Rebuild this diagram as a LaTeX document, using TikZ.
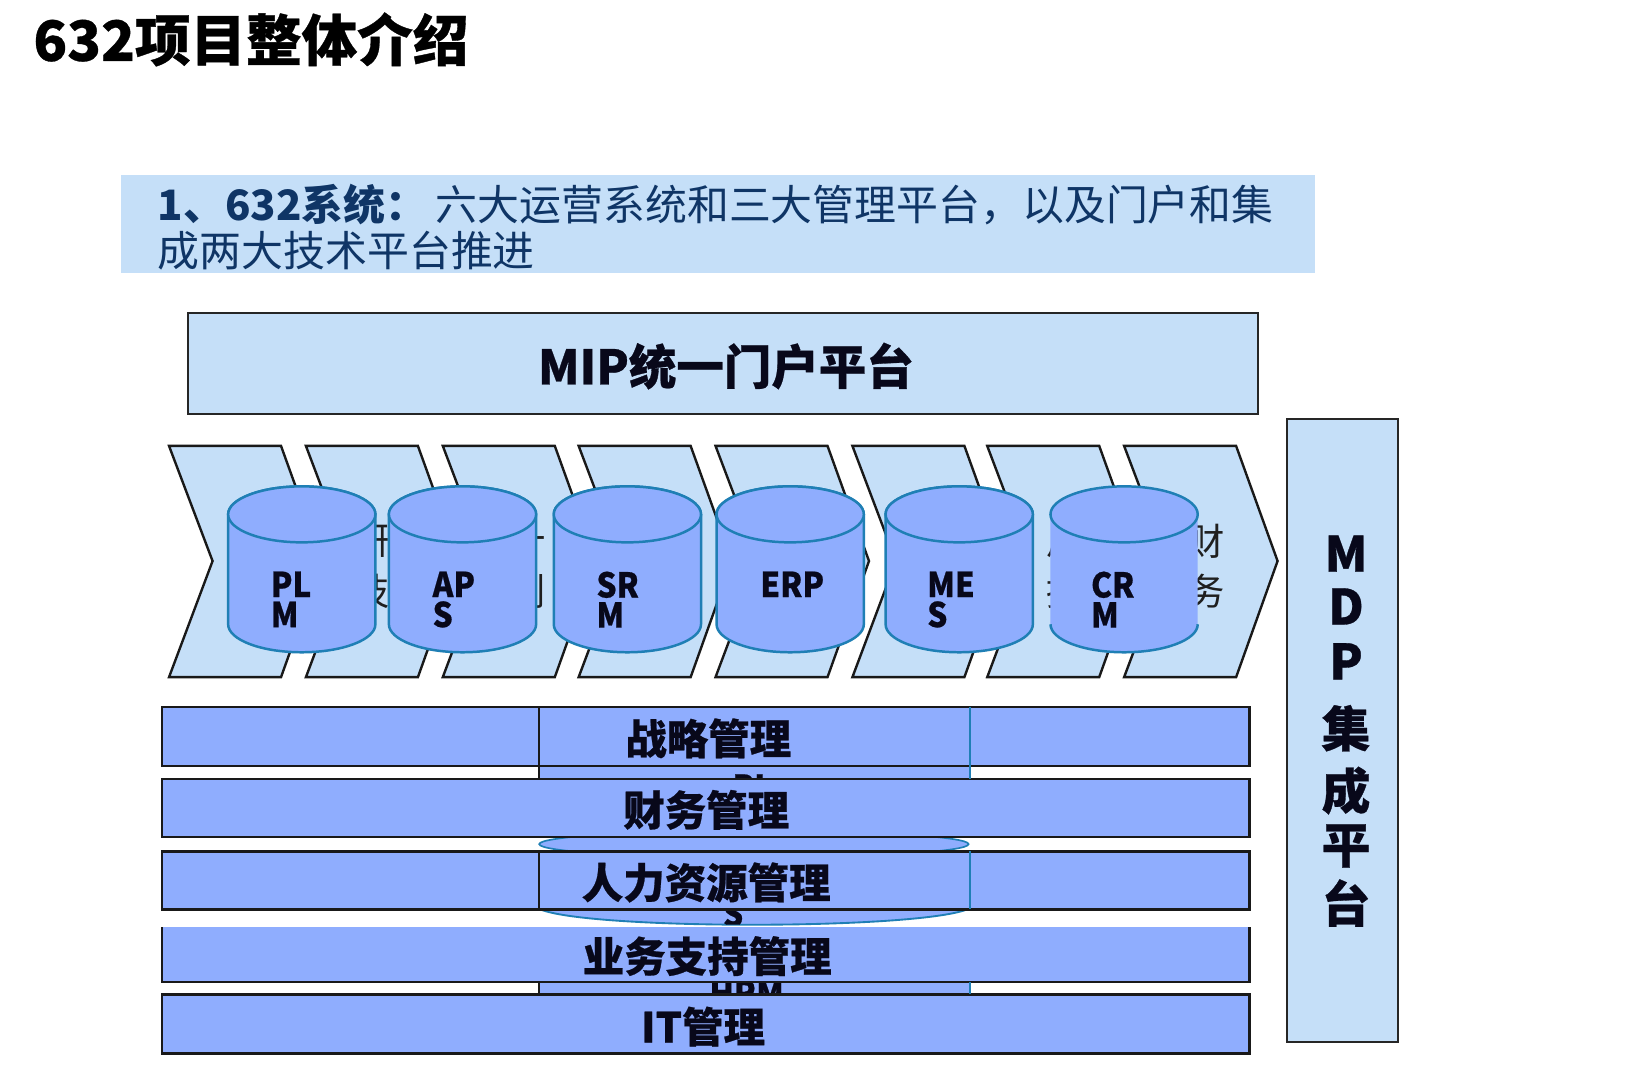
\documentclass[tikz,border=0pt]{standalone}
\usepackage{fontspec}
\setmainfont{Noto Sans CJK SC}
\definecolor{paleblue}{HTML}{C5DFF8}
\definecolor{midblue}{HTML}{8FADFE}
\definecolor{tealline}{HTML}{1F7FB5}
\definecolor{navytext}{HTML}{0F3566}
\definecolor{inktext}{HTML}{08081A}
\newcommand{\fsz}[2]{\fontsize{#1}{#2}\selectfont}
\newcommand{\heavy}{\bfseries\addfontfeature{FakeBold=0.6}}
\newcommand{\narrowheavy}{\bfseries\addfontfeature{FakeStretch=0.92,FakeBold=0.6}}
\tikzset{
  panel/.style={draw=black!85,line width=1.8pt,fill=paleblue},
  chevronshape/.style={draw=black!90,line width=2.3pt,fill=paleblue,line join=miter},
  bar/.style={draw=black!90,line width=2.2pt,fill=midblue},
  cyl/.style={draw=tealline,line width=2.4pt,fill=midblue},
  cyltext/.style={inner sep=0pt,align=left,text=inktext,font=\fsz{33}{29}\narrowheavy},
  bartext/.style={inner sep=0pt,text=inktext,font=\fsz{40}{44}\heavy},
  hidetext/.style={inner sep=0pt,text=black!88,font=\fsz{36}{40}},
  fragment/.style={inner sep=0pt,text=inktext,font=\fsz{33}{33}\narrowheavy},
}
% #1 name, #2 left x, #3 text left x, #4 label
\newcommand{\drum}[4]{%
  \path[cyl] (#2,496) -- (#2,602) arc[start angle=180,end angle=0,x radius=71,y radius=27]
     -- (#2+142,496) arc[start angle=360,end angle=180,x radius=71,y radius=27] -- cycle;
  \path[cyl] (#2+71,496) ellipse[x radius=71,y radius=27];
  \node[cyltext,anchor=north west] (#1) at (#3,551) {#4};
}
\begin{document}
\begin{tikzpicture}[x=1pt,y=-1pt]
\useasboundingbox (0,0) rectangle (1568,1044.3);
\fill[white] (0,0) rectangle (1568,1044.3);

\node[anchor=west,inner sep=0pt,font=\fsz{53.6}{60}\heavy,text=black] (title) at (32,38) {632项目整体介绍};

\fill[paleblue] (117,169) rectangle (1268,263);
\node[anchor=north west,inner sep=0pt,align=left,text width=1100pt,font=\fsz{40.4}{45}] (intro) at (152,177)
  {\textcolor{navytext}{\textbf{1、632系统：}\hspace{8pt}六大运营系统和三大管理平台，以及门户和集\\成两大技术平台推进}};

\draw[panel] (181,302) rectangle (1213,399);
\node[inner sep=0pt,text=inktext,font=\fsz{45.8}{50}\heavy] (mip) at (700,353) {MIP统一门户平台};

\draw[panel] (1241,404) rectangle (1348,1005);
\node[inner sep=0pt,align=center,text=inktext,font=\fsz{47}{56}\heavy] (mdp) at (1298,705)
  {M\\[-5pt]D\\[-3pt]P\\[9pt]集\\[4pt]成\\[-4pt]平\\[1pt]台};

% process chevrons
\foreach \lx in {163,295,427,558,690,822,952,1084}{
  \draw[chevronshape] (\lx,430) -- (\lx+108,430) -- (\lx+148,541) -- (\lx+108,653) -- (\lx,653) -- (\lx+42,541) -- cycle;
}
% texts of the chevrons, mostly hidden by the drums
\node[hidetext] (t1a) at (358,522) {研};
\node[hidetext] (t1b) at (358,570) {技};
\node[hidetext] (t2a) at (508,522) {计};
\node[hidetext] (t2b) at (508,570) {划};
\node[hidetext] (t7a) at (1027,522) {用};
\node[hidetext] (t7b) at (1027,570) {持};
\node[hidetext] (t8a) at (1163,522) {财};
\node[hidetext] (t8b) at (1163,570) {务};

% drums
\drum{plm}{220}{261}{PL\\M}
\drum{aps}{375}{417}{AP\\S}
\drum{srm}{534}{575}{SR\\M}
\drum{erp}{691}{733}{ERP}
\drum{mes}{854}{894}{ME\\S}
% the last drum has no side lines
\fill[midblue] (1013,496) -- (1013,602) arc[start angle=180,end angle=0,x radius=71,y radius=27] -- (1155,496) -- cycle;
\draw[tealline,line width=2.4pt] (1013,602) arc[start angle=180,end angle=0,x radius=71,y radius=27];
\path[cyl] (1084,496) ellipse[x radius=71,y radius=27];
\node[cyltext,anchor=north west] (crm) at (1052,551) {CR\\M};

% drum behind the management bars
\fill[midblue] (519,739) rectangle (935,751);
\begin{scope}
  \clip (519,740) rectangle (935,751);
  \node[fragment] (pl) at (726,759) {PL};
\end{scope}
\path[fill=midblue,draw=tealline,line width=1.6pt] (727,814) ellipse[x radius=207,y radius=13];
\fill[midblue] (519,876) .. controls (560,897) and (890,897) .. (935,876) -- cycle;
\draw[tealline,line width=1.8pt] (519,876) .. controls (560,897) and (890,897) .. (935,876);
\begin{scope}
  \clip (519,877) -- (519,876) .. controls (560,897) and (890,897) .. (935,876) -- cycle;
  \node[fragment] (s) at (707,881) {S};
\end{scope}
\fill[midblue] (519,947) rectangle (935,959);
\begin{scope}
  \clip (519,948) rectangle (935,959);
  \node[fragment,anchor=north] (hrm) at (720,945) {HRM};
\end{scope}

% management bars
\draw[bar] (156,682) rectangle (1205,739);
\draw[bar] (156,751) rectangle (1205,807);
\draw[bar] (156,821) rectangle (1205,877);
\fill[midblue] (156,894) rectangle (1205,947);
\draw[draw=black!90,line width=2.2pt] (156,894) -- (156,947) -- (1205,947) -- (1205,894);
\draw[bar] (156,959) rectangle (1205,1016);

% side lines of the hidden drum, seen through the bars
\foreach \ya/\yb in {682/751,821/877,947/959}{
  \draw[black!90,line width=1.8pt] (519.5,\ya) -- (519.5,\yb);
  \draw[tealline,line width=1.8pt] (935,\ya) -- (935,\yb);
}

\node[bartext] (b1) at (683,712) {战略管理};
\node[bartext] (b2) at (681,781) {财务管理};
\node[bartext] (b3) at (681,851) {人力资源管理};
\node[bartext] (b4) at (682,922) {业务支持管理};
\node[bartext] (b5) at (678,990) {IT管理};
\end{tikzpicture}
\end{document}
